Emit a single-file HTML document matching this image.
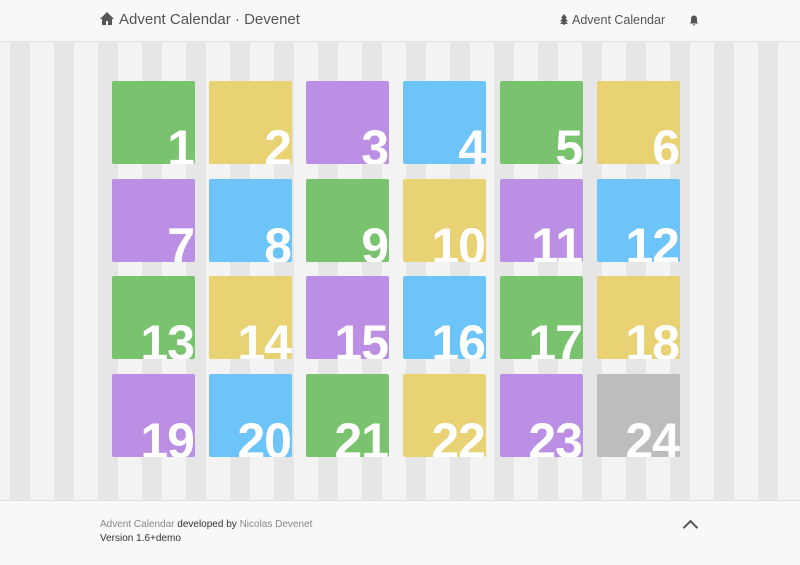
<!DOCTYPE html>
<html><head><meta charset="utf-8"><style>
body{margin:0;width:800px;height:565px;overflow:hidden;font-family:"Liberation Sans",sans-serif;background:#f8f8f8}
.hdr{position:absolute;left:0;top:0;width:800px;height:41px;background:#f8f8f8;border-bottom:1px solid #e2e2e2}
.title{position:absolute;left:100px;top:11px;font-size:15px;color:#555}
.nav{position:absolute;left:560px;top:13px;font-size:12.5px;color:#555}
.bell{position:absolute;left:689px;top:13px}
.main{position:absolute;left:0;top:42px;width:800px;height:458px;background:#f3f3f3;
 background-image:repeating-linear-gradient(90deg,transparent 0 10px,#e6e6e6 10px 30px,transparent 30px 44px);border-bottom:1px solid #ddd}
.tile{position:absolute;width:83px;height:83px;border-radius:2px;overflow:hidden}
.tile span{position:absolute;right:1px;bottom:-9px;font-size:50px;font-weight:bold;color:#fff;letter-spacing:-1px;line-height:1}
.g{background:#79c36e}.y{background:#e8d273}.p{background:#bb8fe3}.b{background:#6cc4f9}.x{background:#bdbdbd}
.foot{position:absolute;left:100px;top:518px;font-size:10px;color:#333;line-height:14px}
.foot .l{color:#888}
.up{position:absolute;left:685px;top:522px;width:9px;height:9px;border-left:2px solid #555;border-top:2px solid #555;transform:rotate(45deg)}
</style></head><body>
<div class="hdr">
<div class="title"><svg width="14" height="13" viewBox="0 0 14 13" style="vertical-align:-1px;margin-right:5px"><path d="M7 0L0 7h2v6h4V9h2v4h4V7h2z" fill="#555"/></svg>Advent Calendar · Devenet</div>
<div class="nav"><svg width="8" height="11" viewBox="0 0 8 11" style="vertical-align:-1px;margin-right:4px"><path d="M4 0L1 4h1.5L0 7.5h2.5L0 10h3.3v1h1.4v-1H8L5.5 7.5H8L5.5 4H7z" fill="#555"/></svg>Advent Calendar</div>
<div class="bell"><svg width="10" height="11" viewBox="0 0 10 11"><path d="M5 0.5C3 0.5 2 2 2 4v3L0.8 8.5h8.4L8 7V4C8 2 7 0.5 5 0.5zM3.8 9.3a1.2 1.2 0 0 0 2.4 0z" fill="#555"/></svg></div>
</div>
<div class="main" id="grid"></div>
<div class="foot"><span class="l">Advent Calendar</span> developed by <span class="l">Nicolas Devenet</span><br>Version 1.6+demo</div>
<div class="up"></div>
<script>
const days=[1,2,3,4,5,6,7,8,9,10,11,12,13,14,15,16,17,18,19,20,21,22,23,24];
const colors=["g","y","p","b","g","y","p","b","g","y","p","b","g","y","p","b","g","y","p","b","g","y","p","x"];
const g=document.getElementById('grid');
days.forEach((d,i)=>{
 const t=document.createElement('div');
 t.className='tile '+colors[i];
 t.style.left=(112+(i%6)*97)+'px';
 t.style.top=(39+Math.floor(i/6)*97.6)+'px';
 
 
 t.innerHTML='<span>'+d+'</span>';
 g.appendChild(t);
});
</script>
</body></html>
